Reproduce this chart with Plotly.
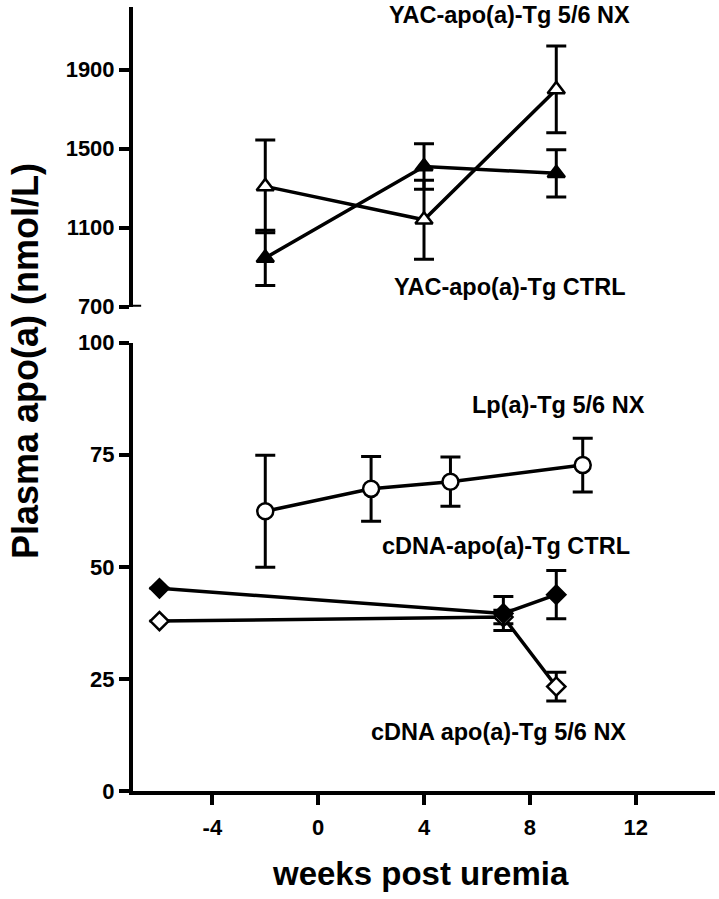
import plotly.graph_objects as go

# ---------------- data ----------------
yac_weeks = [-2, 4, 9]
yac_nx = [1309, 1140, 1800]
yac_nx_err = [235, 200, 220]
yac_ctrl = [947, 1410, 1375]
yac_ctrl_err = [140, 115, 120]

lpa_weeks = [-2, 2, 5, 10]
lpa_nx = [62.4, 67.4, 69.0, 72.7]
lpa_nx_err = [12.5, 7.2, 5.5, 6.0]

cdna_weeks = [-6, 7, 9]
cdna_ctrl = [45.2, 39.6, 43.8]
cdna_ctrl_err = [0, 3.8, 5.4]
cdna_nx = [37.9, 38.8, 23.3]
cdna_nx_err = [0, 1.5, 3.2]

x_ticks = [-4, 0, 4, 8, 12]
x_tick_labels = ["-4", "0", "4", "8", "12"]
y_low_ticks = [0, 25, 50, 75, 100]
y_high_ticks = [700, 1100, 1500, 1900]

FONT = "Liberation Sans, Arial, sans-serif"
W, H = 719, 899
ML, MR, MT, MB = 133, 4, 7, 108
PW, PH = W - ML - MR, H - MT - MB

fig = go.Figure()

def add(x, y, err, symbol, fill, yaxis, size=15):
    fig.add_trace(go.Scatter(
        x=x, y=y, yaxis=yaxis, mode="lines+markers",
        line=dict(color="black", width=3.5),
        marker=dict(symbol=symbol, size=size, color=fill,
                    line=dict(color="black", width=2.5)),
        error_y=dict(type="data", array=err, visible=True,
                     color="black", thickness=3, width=10),
        showlegend=False, cliponaxis=False))

add(yac_weeks, yac_nx, yac_nx_err, "triangle-up", "white", "y2", 15)
add(yac_weeks, yac_ctrl, yac_ctrl_err, "triangle-up", "black", "y2", 15)
add(lpa_weeks, lpa_nx, lpa_nx_err, "circle", "white", "y", 16)
add(cdna_weeks, cdna_nx, cdna_nx_err, "diamond", "white", "y", 14)
add(cdna_weeks, cdna_ctrl, cdna_ctrl_err, "diamond", "black", "y", 14)

tickfont = dict(family=FONT, size=22, color="black", weight="bold")
axis_common = dict(showline=True, linecolor="black", linewidth=4,
                   ticks="outside", ticklen=10, tickwidth=4, tickcolor="black",
                   showgrid=False, zeroline=False, tickfont=tickfont)

fig.update_layout(
    width=W, height=H,
    margin=dict(l=ML, r=MR, t=MT, b=MB, autoexpand=False),
    paper_bgcolor="white", plot_bgcolor="white",
    xaxis=dict(range=[-7, 15], tickvals=x_ticks, ticktext=x_tick_labels,
               anchor="y", ticklabelstandoff=4, **axis_common),
    yaxis=dict(domain=[0, 0.5718], range=[0, 100], tickvals=y_low_ticks,
               anchor="x", **axis_common),
    yaxis2=dict(domain=[0.6177, 1], range=[700, 2217], tickvals=y_high_ticks,
                anchor="x", **axis_common),
)

# axis-break stub at the bottom of the upper axis
fig.add_shape(type="line", xref="paper", yref="y2", x0=0, x1=0.014,
              y0=700, y1=700, line=dict(color="black", width=4))

def px2paper(px, py):
    return (px - ML) / PW, 1 - (py - MT) / PH

ann_font = dict(family=FONT, size=23.5, color="black", weight="bold")
labels = [
    ("YAC-apo(a)-Tg 5/6 NX", 509, 15),
    ("YAC-apo(a)-Tg CTRL", 510, 287),
    ("Lp(a)-Tg 5/6 NX", 558, 405),
    ("cDNA-apo(a)-Tg CTRL", 506, 546),
    ("cDNA apo(a)-Tg 5/6 NX", 498, 732),
]
for text, px, py in labels:
    ax, ay = px2paper(px, py)
    fig.add_annotation(text=text, xref="paper", yref="paper", x=ax, y=ay,
                       showarrow=False, font=ann_font,
                       xanchor="center", yanchor="middle")

ax, ay = px2paper(26, 361)
fig.add_annotation(text="Plasma apo(a) (nmol/L)", xref="paper", yref="paper",
                   x=ax, y=ay, textangle=-90, showarrow=False,
                   font=dict(family=FONT, size=36, color="black", weight="bold"),
                   xanchor="center", yanchor="middle")

ax, ay = px2paper(420, 874)
fig.add_annotation(text="weeks post uremia", xref="paper", yref="paper",
                   x=ax, y=ay, showarrow=False,
                   font=dict(family=FONT, size=33, color="black", weight="bold"),
                   xanchor="center", yanchor="middle")

fig.write_html("out.html", config={"displayModeBar": False},
               post_script="document.body.style.margin='0px';document.body.style.padding='0px';")
